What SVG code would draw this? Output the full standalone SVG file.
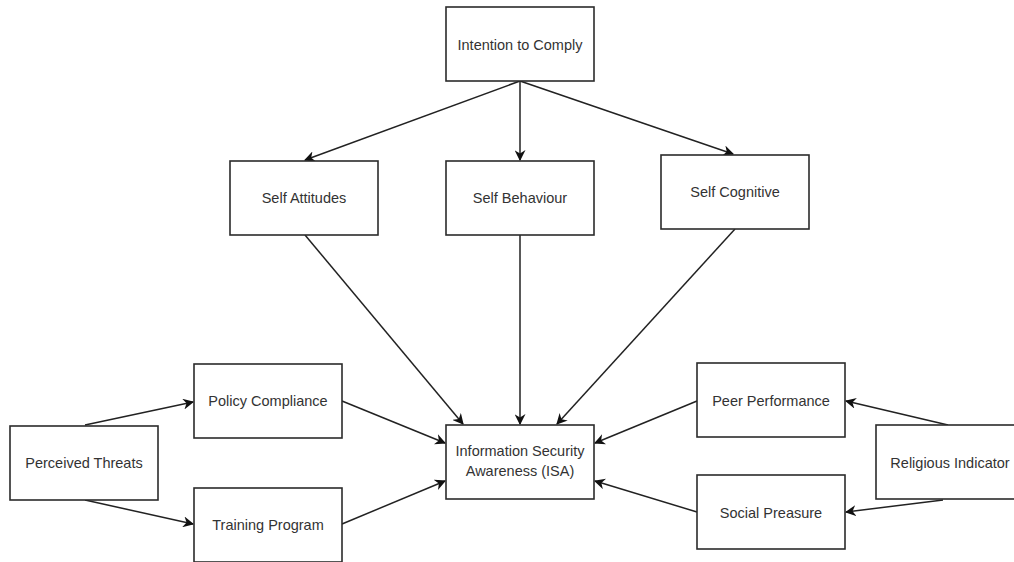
<svg xmlns="http://www.w3.org/2000/svg" width="1014" height="562" viewBox="0 0 1014 562">
<style>
.box{fill:#fff;stroke:#2b2b2b;stroke-width:1.6}
.lbl{font-family:"Liberation Sans",Arial,sans-serif;font-size:14.5px;fill:#333;text-anchor:middle;dominant-baseline:central}
.edge{stroke:#222;stroke-width:1.5;fill:none;marker-end:url(#arr)}
</style>
<defs>
<marker id="arr" viewBox="0 0 10 10" refX="9" refY="5" markerWidth="11" markerHeight="11" markerUnits="userSpaceOnUse" orient="auto">
<path d="M0,0 L10,5 L0,10 L3,5 z" fill="#111"/>
</marker>
</defs>
<rect width="1014" height="562" fill="#fff"/>
<g id="connectors">
<line class="edge" x1="520" y1="81" x2="305" y2="160"/>
<line class="edge" x1="520" y1="81" x2="520" y2="160"/>
<line class="edge" x1="520" y1="81" x2="733" y2="154"/>
<line class="edge" x1="305" y1="235" x2="463" y2="424"/>
<line class="edge" x1="520" y1="235" x2="520" y2="424"/>
<line class="edge" x1="735" y1="229" x2="557" y2="424"/>
<line class="edge" x1="342" y1="401" x2="445" y2="443"/>
<line class="edge" x1="342" y1="524" x2="445" y2="481"/>
<line class="edge" x1="697" y1="401" x2="595" y2="443"/>
<line class="edge" x1="697" y1="512" x2="595" y2="481"/>
<line class="edge" x1="85" y1="425" x2="193" y2="402"/>
<line class="edge" x1="85" y1="500" x2="193" y2="524"/>
<line class="edge" x1="948" y1="425" x2="846" y2="401"/>
<line class="edge" x1="943" y1="500" x2="846" y2="512"/>
</g>
<g id="intention"><rect class="box" x="446" y="7" width="148" height="74"/><text class="lbl" x="520" y="45">Intention to Comply</text></g>
<g id="attitudes"><rect class="box" x="230" y="161" width="148" height="74"/><text class="lbl" x="304" y="198">Self Attitudes</text></g>
<g id="behaviour"><rect class="box" x="446" y="161" width="148" height="74"/><text class="lbl" x="520" y="198">Self Behaviour</text></g>
<g id="cognitive"><rect class="box" x="661" y="155" width="148" height="74"/><text class="lbl" x="735" y="192">Self Cognitive</text></g>
<g id="policy"><rect class="box" x="194" y="364" width="148" height="74"/><text class="lbl" x="268" y="401">Policy Compliance</text></g>
<g id="threats"><rect class="box" x="10" y="426" width="148" height="74"/><text class="lbl" x="84" y="463">Perceived Threats</text></g>
<g id="training"><rect class="box" x="194" y="488" width="148" height="74"/><text class="lbl" x="268" y="525">Training Program</text></g>
<g id="isa"><rect class="box" x="446" y="425" width="148" height="74"/><text class="lbl" x="520" y="451">Information Security</text><text class="lbl" x="520" y="471">Awareness (ISA)</text></g>
<g id="peer"><rect class="box" x="697" y="363" width="148" height="74"/><text class="lbl" x="771" y="401">Peer Performance</text></g>
<g id="religious"><rect class="box" x="876" y="425" width="148" height="74"/><text class="lbl" x="950" y="463">Religious Indicator</text></g>
<g id="social"><rect class="box" x="697" y="475" width="148" height="74"/><text class="lbl" x="771" y="513">Social Preasure</text></g>
</svg>
